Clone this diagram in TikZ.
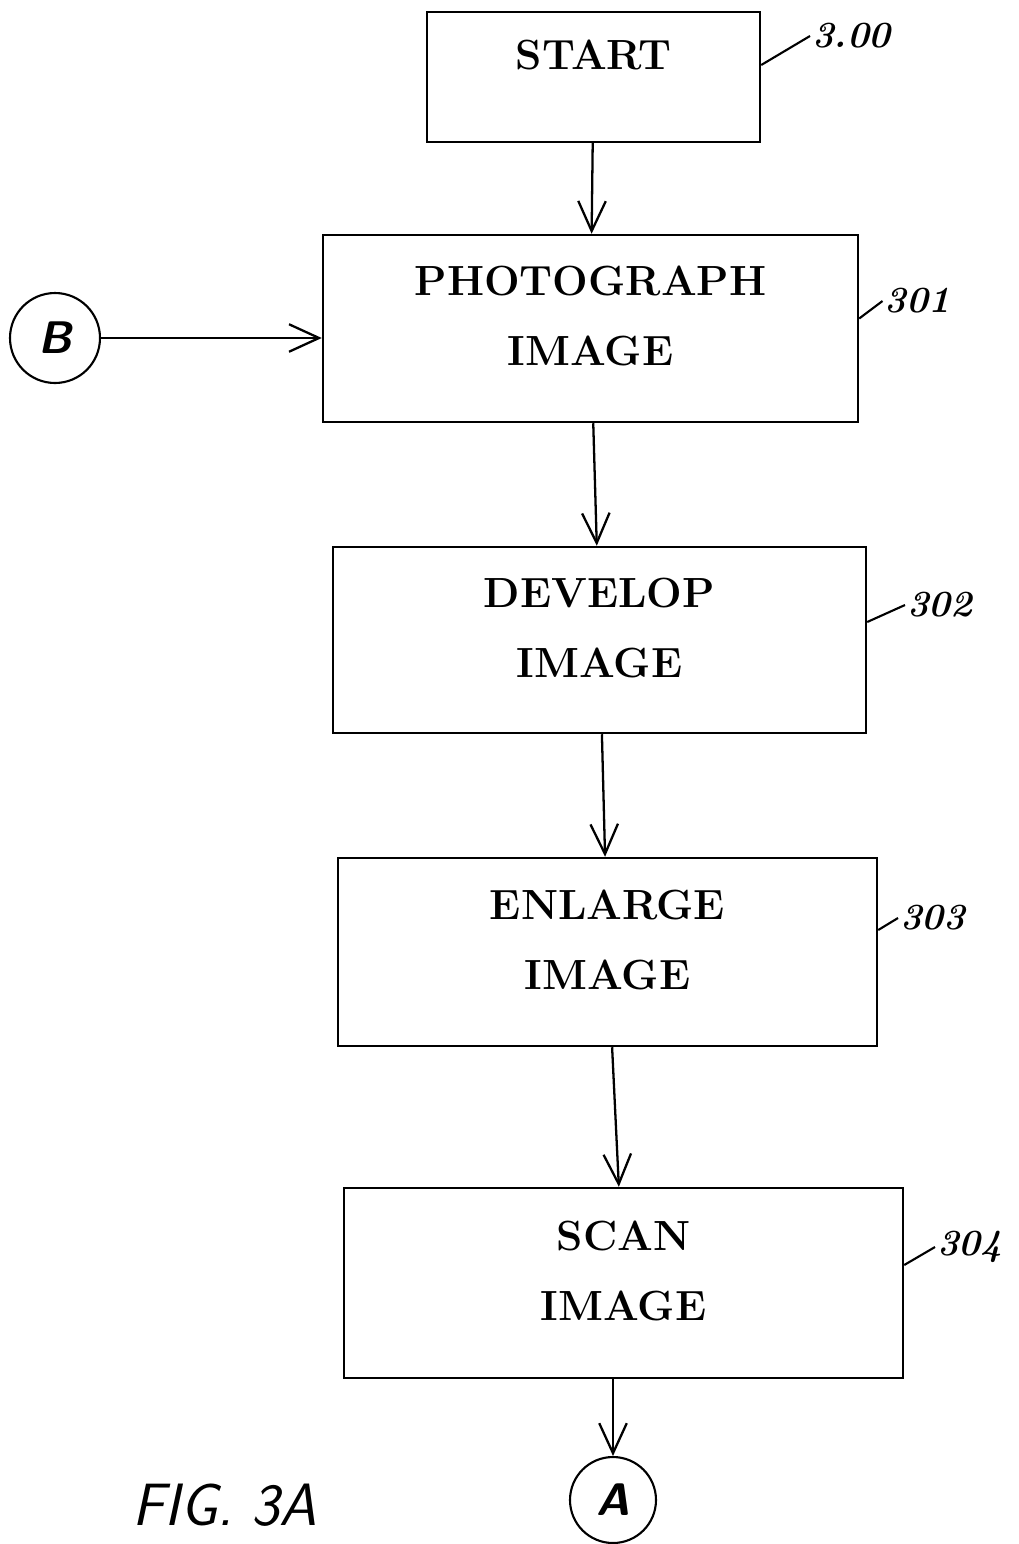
\documentclass[tikz,border=0pt]{standalone}
\usepackage{fontspec}
\usetikzlibrary{arrows.meta,positioning,calc}

\begin{document}
\begin{tikzpicture}[
  stepbox/.style={draw, line width=1.4pt, align=center, inner sep=0pt,
    text depth=0.5cm, font=\fontsize{24}{40}\selectfont\bfseries},
  conn/.style={draw, circle, line width=1.2pt, inner sep=0pt, minimum size=#1,
    font=\fontsize{26}{26}\selectfont\sffamily\bfseries\itshape},
  arr/.style={-{Straight Barb[length=6mm,width=5.5mm]}, line width=1.3pt},
  refnum/.style={anchor=west, inner sep=1pt, font=\fontsize{21}{21}\selectfont\bfseries\itshape},
  lead/.style={line width=1.2pt},
]
\useasboundingbox (0,0) rectangle (20.38,-30.88);

% process boxes
\node[stepbox, minimum width=6.66cm, minimum height=2.6cm,
  text height=0.6cm, text depth=0.9cm] (start) at (11.87,-1.54) {START};
\node[stepbox, minimum width=10.7cm, minimum height=3.74cm] (photo) at (11.81,-6.57) {PHOTOGRAPH\\IMAGE};
\node[stepbox, minimum width=10.66cm, minimum height=3.72cm] (develop) at (11.99,-12.8) {DEVELOP\\IMAGE};
\node[stepbox, minimum width=10.78cm, minimum height=3.76cm] (enlarge) at (12.15,-19.04) {ENLARGE\\IMAGE};
\node[stepbox, minimum width=11.18cm, minimum height=3.8cm] (scan) at (12.47,-25.66) {SCAN\\IMAGE};

% off-page connectors
\node[conn=1.8cm] (b) at (1.1,-6.76) {B};
\node[conn=1.72cm] (a) at (12.26,-30.0) {A};

% reference numerals
\node[refnum] (n300) at (16.2,-0.72) {3.00};
\node[refnum] (n301) at (17.65,-6.02) {301};
\node[refnum] (n302) at (18.1,-12.1) {302};
\node[refnum] (n303) at (17.96,-18.36) {303};
\node[refnum] (n304) at (18.7,-24.94) {304};

\node[font=\fontsize{34}{34}\selectfont\sffamily\slshape] (fig) at (4.5,-30.1) {FIG. 3A};

% flow
\draw[arr] (start) -- (photo);
\draw[arr] (b.east) -- (b.east -| photo.west);
\draw[arr] (photo) -- (develop);
\draw[arr] (develop) -- (enlarge);
\draw[arr] (enlarge) -- (scan);
\draw[arr] (a |- scan.south) -- (a);

% leaders
\draw[lead] ([yshift=2.4mm]start.east) -- (n300.west);
\draw[lead] ([yshift=2mm]photo.east) -- (n301.west);
\draw[lead] ([yshift=3.6mm]develop.east) -- (n302.west);
\draw[lead] ([yshift=4.4mm]enlarge.east) -- (n303.west);
\draw[lead] ([yshift=3.6mm]scan.east) -- (n304.west);
\end{tikzpicture}
\end{document}
